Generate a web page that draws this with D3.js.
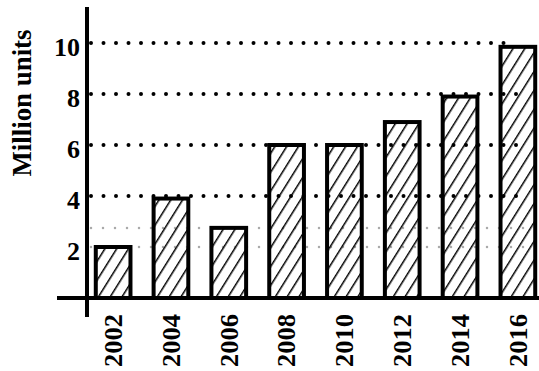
<!DOCTYPE html>
<html>
<head>
<meta charset="utf-8">
<script src="https://cdn.jsdelivr.net/npm/d3@7"></script>
<style>
  body { margin: 0; background: #fff; }
  text { font-family: "Liberation Serif", "DejaVu Serif", serif; font-weight: bold; fill: #000; }
</style>
</head>
<body>
<div id="chart"></div>
<script>
const years = ["2002", "2004", "2006", "2008", "2010", "2012", "2014", "2016"];
const units = [2, 3.9, 2.75, 6, 6, 6.9, 7.9, 9.85];
const yTicks = [2, 4, 6, 8, 10];
const dottedLevels = [4, 6, 8, 10];
const faintLevels = [2, 2.75];

const width = 539, height = 371;
const x0 = 87, baseY = 298;

const svg = d3.select("#chart").append("svg")
    .attr("width", width)
    .attr("height", height);

// hatch pattern for the bars
const defs = svg.append("defs");
defs.append("pattern")
    .attr("id", "hatch")
    .attr("patternUnits", "userSpaceOnUse")
    .attr("width", 10)
    .attr("height", 10)
    .attr("patternTransform", "rotate(32)")
    .append("line")
    .attr("x1", 0).attr("y1", 0)
    .attr("x2", 0).attr("y2", 10)
    .attr("stroke", "#000")
    .attr("stroke-width", 3);

const x = d3.scaleBand()
    .domain(years)
    .range([90, 541])
    .paddingInner(0.4)
    .paddingOuter(0.1);

const y = d3.scaleLinear()
    .domain([0, 10])
    .range([baseY, 43]);

// faint dotted lines
svg.append("g")
    .selectAll("line")
    .data(faintLevels)
    .enter().append("line")
    .attr("x1", x0 + 4)
    .attr("x2", 525)
    .attr("y1", d => y(d))
    .attr("y2", d => y(d))
    .attr("stroke", "#aaa")
    .attr("stroke-width", 2.5)
    .attr("stroke-linecap", "round")
    .attr("stroke-dasharray", "0 12");

// main dotted grid
svg.append("g")
    .selectAll("line")
    .data(dottedLevels)
    .enter().append("line")
    .attr("x1", x0 + 4)
    .attr("x2", d => d === 10 ? 505 : 525)
    .attr("y1", d => y(d))
    .attr("y2", d => y(d))
    .attr("stroke", "#000")
    .attr("stroke-width", 4)
    .attr("stroke-linecap", "round")
    .attr("stroke-dasharray", "0 12.5");

// bars
svg.append("g")
    .selectAll("rect")
    .data(years)
    .enter().append("rect")
    .attr("x", d => x(d))
    .attr("y", (d, i) => y(units[i]))
    .attr("width", x.bandwidth())
    .attr("height", (d, i) => baseY - y(units[i]))
    .attr("fill", "url(#hatch)")
    .attr("stroke", "#000")
    .attr("stroke-width", 4);

// axes
svg.append("line")
    .attr("x1", x0).attr("x2", x0)
    .attr("y1", 7).attr("y2", 317)
    .attr("stroke", "#000")
    .attr("stroke-width", 4);

svg.append("line")
    .attr("x1", 57).attr("x2", width)
    .attr("y1", baseY).attr("y2", baseY)
    .attr("stroke", "#000")
    .attr("stroke-width", 4);

// y tick labels
svg.append("g")
    .selectAll("text")
    .data(yTicks)
    .enter().append("text")
    .attr("x", 80)
    .attr("y", d => y(d) + 4)
    .attr("dy", "0.35em")
    .attr("text-anchor", "end")
    .style("font-size", "26px")
    .text(d => d);

// x labels, rotated
svg.append("g")
    .selectAll("text")
    .data(years)
    .enter().append("text")
    .attr("transform", d => "translate(" + (x(d) + x.bandwidth() / 2) + ",314) rotate(-90)")
    .attr("dy", "0.35em")
    .attr("text-anchor", "end")
    .attr("textLength", 53)
    .attr("lengthAdjust", "spacingAndGlyphs")
    .style("font-size", "25px")
    .text(d => d);

// y title
svg.append("text")
    .attr("transform", "translate(21,103) rotate(-90)")
    .attr("dy", "0.35em")
    .attr("text-anchor", "middle")
    .attr("textLength", 147)
    .attr("lengthAdjust", "spacingAndGlyphs")
    .style("font-size", "28px")
    .text("Million units");
</script>
</body>
</html>
